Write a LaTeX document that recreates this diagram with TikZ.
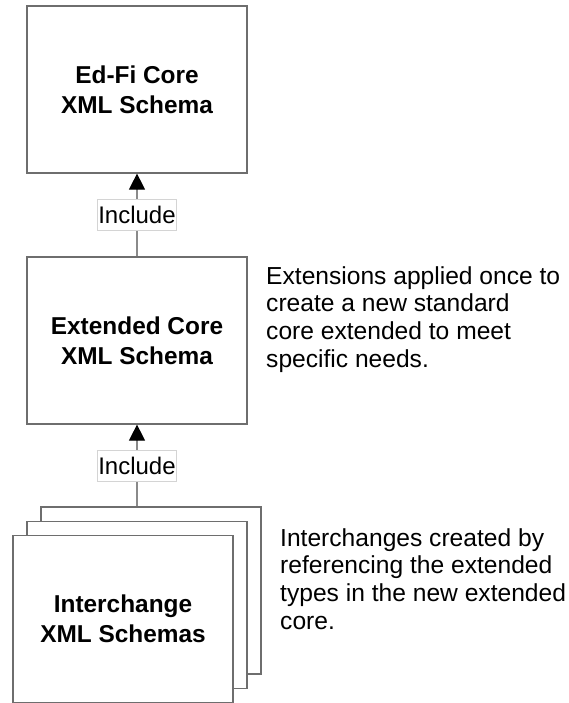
\documentclass[tikz,border=0pt]{standalone}
\usepackage{fontspec}
\setmainfont{Liberation Sans}
\usetikzlibrary{arrows.meta}
\definecolor{boxline}{HTML}{6E6E6E}
\definecolor{connline}{HTML}{8A8A8A}
\definecolor{lblline}{HTML}{D4D4D4}
\begin{document}
\begin{tikzpicture}[x=1pt,y=-1pt,
  schemabox/.style={draw=boxline, line width=1.2pt, fill=white,
    minimum width=220pt, minimum height=167pt, inner sep=0pt,
    align=center, font=\fontsize{24.4}{29.6}\selectfont\bfseries},
  conn/.style={draw=connline, line width=1.1pt,
    -{Triangle[length=16pt,width=16pt,color=black]}},
  lbl/.style={draw=lblline, line width=0.6pt, fill=white,
    minimum width=78.6pt, minimum height=30.7pt, inner sep=0pt,
    font=\fontsize{24}{28}\selectfont},
  desc/.style={anchor=north west, inner sep=0pt, align=left,
    font=\fontsize{24.6}{27.8}\selectfont}]
\useasboundingbox (0,0) rectangle (568,703);
\fill[white] (0,0) rectangle (568,703);
% boxes
\node[schemabox] (core) at (137,89.5) {Ed-Fi Core\\XML Schema};
\node[schemabox] (ext) at (137,340.5) {Extended Core\\XML Schema};
\node[schemabox] (back) at (151,590.5) {};
\node[schemabox] (mid) at (137,605) {};
\node[schemabox] (front) at (123,619) {Interchange\\XML Schemas};
% connectors
\draw[conn] (ext.north) -- node[lbl] (inc1) {Include} (core.south);
\coordinate (stacktop) at (ext.south |- back.north);
\draw[conn] (stacktop) -- node[lbl] (inc2) {Include} (ext.south);
% descriptions
\node[desc] (d1) at (266,266) {Extensions applied once to\\create a new standard\\core extended to meet\\specific needs.};
\node[desc] (d2) at (280,528) {Interchanges created by\\referencing the extended\\types in the new extended\\core.};
\end{tikzpicture}
\end{document}
